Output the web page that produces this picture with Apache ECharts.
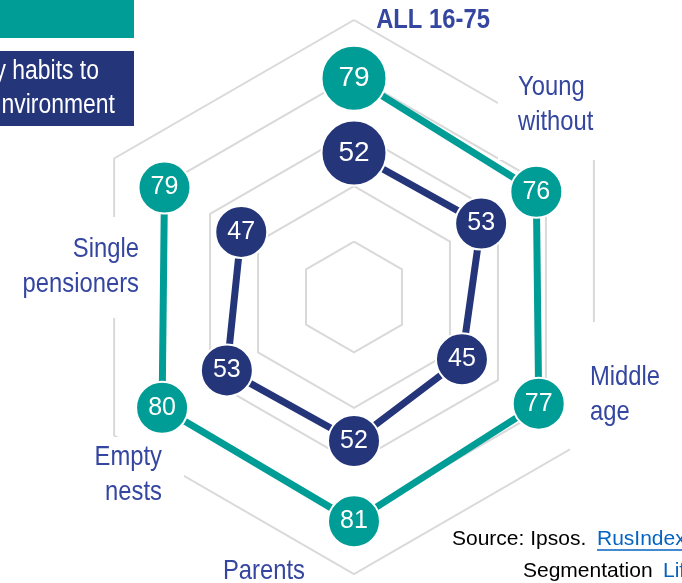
<!DOCTYPE html>
<html>
<head>
<meta charset="utf-8">
<script src="https://cdn.jsdelivr.net/npm/echarts@6/dist/echarts.min.js"></script>
<style>
html, body { margin: 0; padding: 0; background: #fff; }
#chart { width: 682px; height: 583px; }
</style>
</head>
<body>
<div id="chart"></div>
<script>
// Segment names, clockwise from the top
const categories = ['ALL 16-75', 'Young\nwithout', 'Middle\nage', 'Parents', 'Empty\nnests', 'Single\npensioners'];
// Share per segment, %
const shareTeal = [79, 76, 77, 81, 80, 79];
const shareNavy = [52, 53, 45, 52, 53, 47];
// Header and source texts
const headerLines = ['y habits to', 'nvironment'];
const sourceLines = [['Source: Ipsos.', 'RusIndex'], ['Segmentation', 'Life']];

const TEAL = '#009c96';
const NAVY = '#25357a';
const LABEL_BLUE = '#3446a0';
const LINK_BLUE = '#0563c1';
const SANS = "'Liberation Sans', Arial, sans-serif";
// horizontal squeeze giving the narrow look of names and header
const NARROW_SCALE = 0.85;

const CENTER = [354, 297];
const RADIUS = 277;

// Where each segment name sits; mask = white box behind the name [x, y, w, h]
const namePlacement = [
  { x: 433, y: 20, align: 'center', bold: true },
  { x: 518, y: 105, align: 'left', mask: [498, 62, 116, 98] },
  { x: 590, y: 395, align: 'left', mask: [570, 322, 112, 128] },
  { x: 223, y: 571, align: 'left' },
  { x: 162, y: 475, align: 'right', mask: [88, 437, 96, 80] },
  { x: 139, y: 267, align: 'right', mask: [0, 217, 150, 101] }
];

function ringData(values) {
  const pts = values.map((v, i) => ({
    value: [v, i],
    symbolSize: i === 0 ? 65 : 52,
    label: { fontSize: i === 0 ? 28 : 25 }
  }));
  // close the polygon back to the first segment
  pts.push({ value: [values[0], 0], symbol: 'none', label: { show: false } });
  return pts;
}

function ringSeries(name, values, color) {
  return {
    name: name,
    type: 'line',
    coordinateSystem: 'polar',
    data: ringData(values),
    symbol: 'circle',
    showAllSymbol: true,
    lineStyle: { color: color, width: 7 },
    itemStyle: { color: color, borderColor: '#fff', borderWidth: 2 },
    label: {
      show: true,
      position: 'inside',
      color: '#fff',
      fontFamily: SANS,
      formatter: p => p.value[0]
    },
    emphasis: { disabled: true },
    z: 3
  };
}

function textEl(x, y, text, font, fill, align, z, scaleX) {
  return {
    type: 'text', x: x, y: y, z: z || 5,
    scaleX: scaleX || 1,
    style: {
      text: text, font: font, fill: fill, lineHeight: 35,
      align: align, textAlign: align,
      verticalAlign: 'middle', textVerticalAlign: 'middle'
    }
  };
}

const graphics = [];
graphics.push({ type: 'rect', z: 5, shape: { x: 0, y: 0, width: 134, height: 38 }, style: { fill: TEAL } });
graphics.push({ type: 'rect', z: 5, shape: { x: 0, y: 51, width: 134, height: 75 }, style: { fill: NAVY } });
headerLines.forEach((t, i) => {
  graphics.push(textEl([99, 115][i], [72, 106][i], t, '27px ' + SANS, '#fff', 'right', 6, NARROW_SCALE));
});

categories.forEach((name, i) => {
  const p = namePlacement[i];
  if (p.mask) {
    graphics.push({
      type: 'rect', z: 1,
      shape: { x: p.mask[0], y: p.mask[1], width: p.mask[2], height: p.mask[3] },
      style: { fill: '#fff' }
    });
  }
  graphics.push(textEl(p.x, p.y, name, (p.bold ? 'bold ' : '') + '28px ' + SANS, LABEL_BLUE, p.align, 5, NARROW_SCALE));
});

const sourcePos = [{ x: 452, link: 597, y: 539 }, { x: 523, link: 663, y: 571 }];
sourceLines.forEach((parts, i) => {
  const p = sourcePos[i];
  graphics.push(textEl(p.x, p.y, parts[0], '21px ' + SANS, '#000', 'left'));
  graphics.push(textEl(p.link, p.y, parts[1], '21px ' + SANS, LINK_BLUE, 'left'));
});
graphics.push({
  type: 'line', z: 5,
  shape: { x1: 597, y1: 550, x2: 682, y2: 550 },
  style: { stroke: LINK_BLUE, lineWidth: 1.5 }
});

const chart = echarts.init(document.getElementById('chart'), null, { renderer: 'canvas' });
chart.setOption({
  animation: false,
  backgroundColor: '#fff',
  radar: {
    z: 0,
    center: CENTER,
    radius: RADIUS,
    shape: 'polygon',
    splitNumber: 5,
    indicator: categories.map(name => ({ name: name, min: 0, max: 100 })),
    axisName: { show: false },
    axisLine: { show: false },
    axisTick: { show: false },
    axisLabel: { show: false },
    splitLine: { lineStyle: { color: '#d9d9d9', width: 2 } },
    splitArea: { show: false }
  },
  polar: { center: CENTER, radius: RADIUS },
  angleAxis: {
    type: 'category',
    data: categories,
    startAngle: 90,
    clockwise: true,
    boundaryGap: false,
    axisLine: { show: false },
    axisTick: { show: false },
    axisLabel: { show: false },
    splitLine: { show: false }
  },
  radiusAxis: {
    type: 'value',
    min: 0,
    max: 100,
    axisLine: { show: false },
    axisTick: { show: false },
    axisLabel: { show: false },
    splitLine: { show: false }
  },
  series: [
    ringSeries('Teal', shareTeal, TEAL),
    ringSeries('Navy', shareNavy, NAVY)
  ],
  graphic: { elements: graphics }
});
</script>
</body>
</html>
